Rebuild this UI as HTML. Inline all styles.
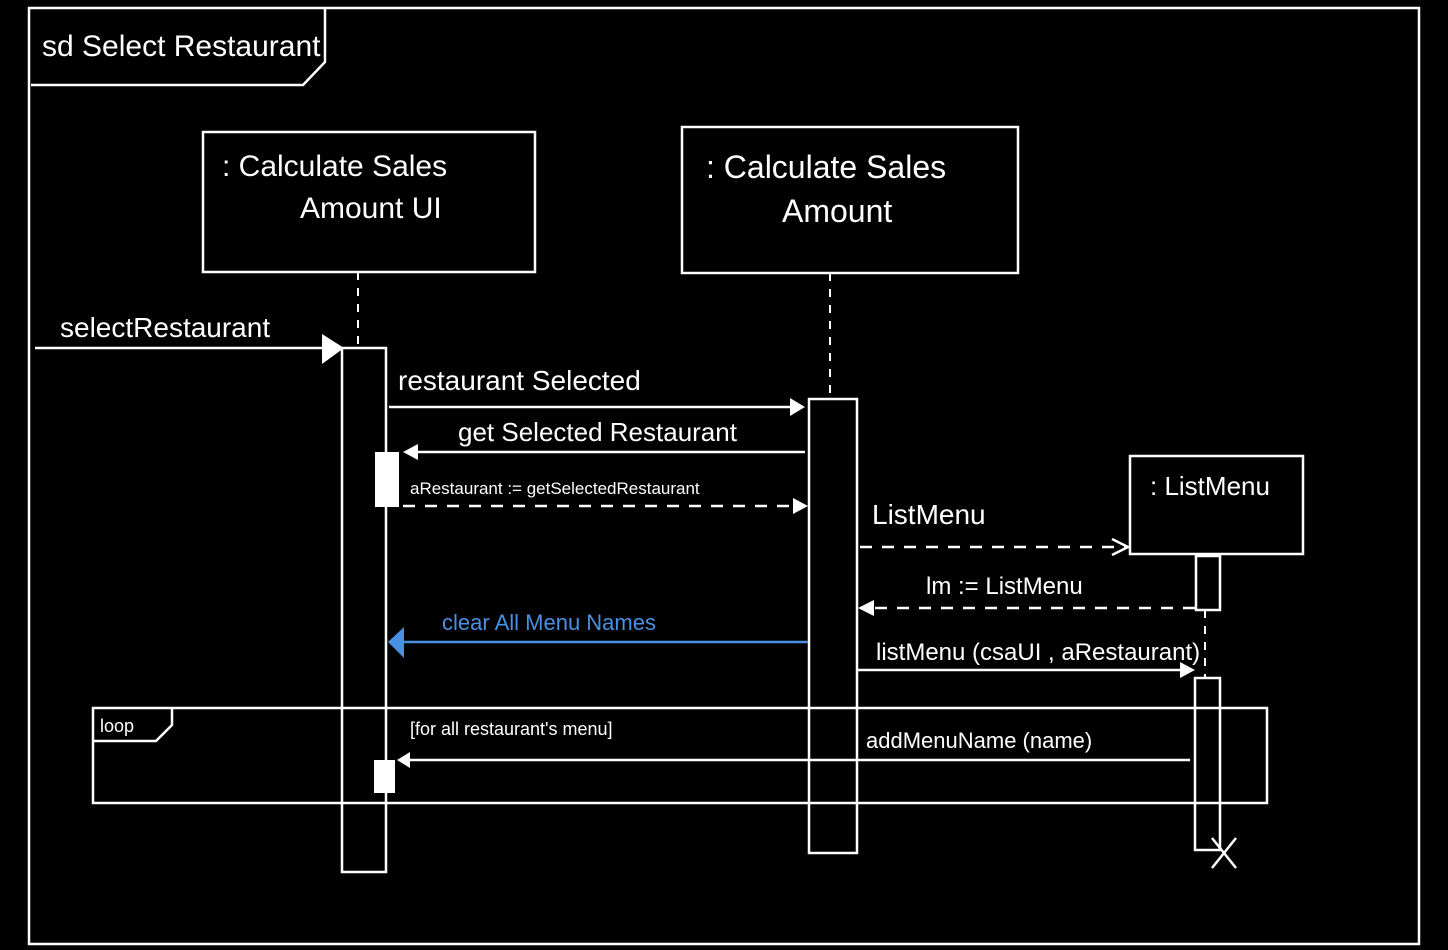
<!DOCTYPE html>
<html><head><meta charset="utf-8"><style>
html,body{margin:0;padding:0;background:#000;}
svg{display:block;}
text{font-family:"Liberation Sans",sans-serif;fill:#fff;}
</style></head><body>
<svg width="1448" height="950" viewBox="0 0 1448 950" xmlns="http://www.w3.org/2000/svg">
<rect width="1448" height="950" fill="#000"/>
<g stroke="#fff" stroke-width="2.5" fill="none">
<rect x="29" y="8" width="1390" height="936"/>
<polyline points="31,85 303,85 325,62 325,8"/>
<rect x="203" y="132" width="332" height="140"/>
<rect x="682" y="127" width="336" height="146"/>
<rect x="1130" y="456" width="173" height="98"/>
<g stroke-dasharray="8,8" stroke-width="2">
<line x1="358" y1="272" x2="358" y2="348"/>
<line x1="830" y1="273" x2="830" y2="399"/>
<line x1="1205" y1="610" x2="1205" y2="678"/>
</g>
<rect x="342" y="348" width="44" height="524"/>
<rect x="809" y="399" width="48" height="454"/>
<rect x="1196" y="556" width="24" height="54"/>
<rect x="1195" y="678" width="25" height="172"/>
<rect x="93" y="708" width="1174" height="95"/>
<polyline points="93,741 156,741 172,725 172,708"/>
<line x1="35" y1="348" x2="330" y2="348"/>
<line x1="389" y1="407" x2="800" y2="407"/>
<line x1="805" y1="452" x2="410" y2="452"/>
<line x1="403" y1="506" x2="800" y2="506" stroke-dasharray="12,10"/>
<line x1="860" y1="547" x2="1128" y2="547" stroke-dasharray="12,10"/>
<polyline points="1112,539 1128,547 1112,555"/>
<line x1="1195" y1="608" x2="866" y2="608" stroke-dasharray="12,10"/>
<line x1="857" y1="670" x2="1190" y2="670"/>
<line x1="1190" y1="760" x2="405" y2="760"/>
<line x1="1212" y1="838" x2="1236" y2="868"/>
<line x1="1236" y1="838" x2="1212" y2="868"/>
</g>
<rect x="375" y="452" width="24" height="55" fill="#fff"/>
<rect x="374" y="760" width="21" height="33" fill="#fff"/>
<g fill="#fff">
<polygon points="322,334 344,348 322,364"/>
<polygon points="790,398 805,407 790,416"/>
<polygon points="418,444 403,452 418,460"/>
<polygon points="793,498 808,506 793,514"/>
<polygon points="874,600 858,608 874,616"/>
<polygon points="1180,662 1195,670 1180,678"/>
<polygon points="410,752 397,760 410,768"/>
</g>
<line x1="808" y1="642" x2="400" y2="642" stroke="#4a90e2" stroke-width="2.5"/>
<polygon points="404,627 388,642 404,658" fill="#4a90e2"/>
<text x="42" y="56" font-size="30">sd  Select Restaurant</text>
<text x="222" y="176" font-size="30">: Calculate Sales</text>
<text x="300" y="218" font-size="30">Amount UI</text>
<text x="706" y="178" font-size="32">: Calculate Sales</text>
<text x="782" y="222" font-size="32">Amount</text>
<text x="1150" y="495" font-size="26">: ListMenu</text>
<text x="60" y="337" font-size="28">selectRestaurant</text>
<text x="398" y="390" font-size="28">restaurant Selected</text>
<text x="458" y="441" font-size="26">get Selected Restaurant</text>
<text x="410" y="494" font-size="17">aRestaurant := getSelectedRestaurant</text>
<text x="872" y="524" font-size="28">ListMenu</text>
<text x="926" y="594" font-size="24">lm := ListMenu</text>
<text x="442" y="630" font-size="22" style="fill:#4a90e2">clear All Menu Names</text>
<text x="876" y="660" font-size="24">listMenu (csaUI , aRestaurant)</text>
<text x="100" y="732" font-size="18">loop</text>
<text x="410" y="735" font-size="18">[for all restaurant's menu]</text>
<text x="866" y="748" font-size="22">addMenuName (name)</text>
</svg>
</body></html>
